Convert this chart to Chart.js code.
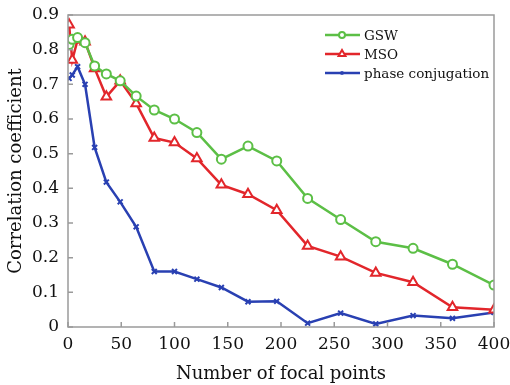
<!DOCTYPE html>
<html>
<head>
<meta charset="utf-8">
<script src="https://cdn.jsdelivr.net/npm/chart.js@4.4.0/dist/chart.umd.min.js"></script>
<style>
  html, body { margin: 0; padding: 0; background: #fff; }
  #wrap { width: 510px; height: 385px; }
</style>
</head>
<body>
<div id="wrap"><canvas id="corrChart" width="510" height="385"></canvas></div>
<script>
// number of focal points (x)
const focalPoints = [1, 4, 9, 16, 25, 36, 49, 64, 81, 100, 121, 144, 169, 196, 225, 256, 289, 324, 361, 400];
// correlation coefficient per method
const gswValues = [0.815, 0.83, 0.835, 0.82, 0.753, 0.73, 0.71, 0.666, 0.626, 0.60, 0.561, 0.484, 0.522, 0.479, 0.371, 0.31, 0.246, 0.227, 0.181, 0.121];
const msoValues = [0.872, 0.77, 0.828, 0.823, 0.746, 0.664, 0.71, 0.645, 0.545, 0.532, 0.486, 0.41, 0.383, 0.337, 0.234, 0.203, 0.156, 0.129, 0.057, 0.05];
const phaseValues = [0.717, 0.727, 0.751, 0.70, 0.518, 0.418, 0.361, 0.289, 0.16, 0.16, 0.138, 0.114, 0.073, 0.074, 0.011, 0.04, 0.009, 0.033, 0.025, 0.042];
const seriesNames = ['GSW', 'MSO', 'phase conjugation'];

const FONT = "'DejaVu Serif', serif";
const green = '#5cbf46';
const red = '#e2262b';
const blue = '#2940b2';

function toPoints(vals) {
  return vals.map((v, i) => ({ x: focalPoints[i], y: v }));
}

// box, inward ticks
const frame = {
  id: 'frame',
  afterDraw(chart) {
    const ctx = chart.ctx;
    const a = chart.chartArea;
    const xs = chart.scales.x, ys = chart.scales.y;
    ctx.save();
    ctx.strokeStyle = '#9a9a9a';
    ctx.lineWidth = 1.5;
    ctx.strokeRect(a.left, a.top, a.right - a.left, a.bottom - a.top);
    ctx.beginPath();
    xs.ticks.forEach(t => {
      const px = xs.getPixelForValue(t.value);
      ctx.moveTo(px, a.bottom);
      ctx.lineTo(px, a.bottom - 5);
    });
    ys.ticks.forEach(t => {
      const py = ys.getPixelForValue(t.value);
      ctx.moveTo(a.left, py);
      ctx.lineTo(a.left + 5, py);
    });
    ctx.stroke();
    ctx.restore();
  }
};

// legend inside the plot, upper right
const innerLegend = {
  id: 'innerLegend',
  afterDraw(chart) {
    const ctx = chart.ctx;
    ctx.save();
    chart.data.datasets.forEach((ds, i) => {
      const y = 35 + 19 * i;
      ctx.strokeStyle = ds.borderColor;
      ctx.lineWidth = 2.5;
      ctx.beginPath();
      ctx.moveTo(325, y);
      ctx.lineTo(360, y);
      ctx.stroke();
      ctx.fillStyle = '#fff';
      ctx.lineWidth = 2;
      Chart.helpers.drawPoint(ctx, { pointStyle: ds.pointStyle, radius: ds.pointRadius - 1.5, rotation: 0, borderWidth: 2 }, 342, y);
      ctx.fillStyle = '#111';
      ctx.font = '13.5px ' + FONT;
      ctx.textAlign = 'left';
      ctx.textBaseline = 'middle';
      ctx.fillText(ds.label, 364, y + 1);
    });
    ctx.restore();
  }
};

const ctxA = document.getElementById('corrChart');
const corrChart = new Chart(ctxA, {
  type: 'line',
  data: {
    datasets: [{
      label: seriesNames[0],
      data: toPoints(gswValues),
      borderColor: green,
      backgroundColor: '#fff',
      pointBackgroundColor: '#fff',
      borderWidth: 2.5,
      pointStyle: 'circle',
      pointRadius: 4.5,
      pointBorderWidth: 2
    }, {
      label: seriesNames[1],
      data: toPoints(msoValues),
      borderColor: red,
      backgroundColor: '#fff',
      pointBackgroundColor: '#fff',
      borderWidth: 2.5,
      pointStyle: 'triangle',
      pointRadius: 5.5,
      pointBorderWidth: 2
    }, {
      label: seriesNames[2],
      data: toPoints(phaseValues),
      borderColor: blue,
      backgroundColor: blue,
      borderWidth: 2.5,
      pointStyle: 'crossRot',
      pointRadius: 3.5,
      pointBorderWidth: 2
    }]
  },
  options: {
    responsive: false,
    animation: false,
    layout: { padding: { top: 15, right: 16, left: 6, bottom: 0 } },
    scales: {
      x: {
        type: 'linear',
        min: 0,
        max: 400,
        grid: { display: false, drawTicks: false },
        border: { display: false },
        ticks: { stepSize: 50, padding: 7, color: '#111', font: { family: FONT, size: 17 }, maxRotation: 0 },
        title: { display: true, text: 'Number of focal points', color: '#111', font: { family: FONT, size: 18 }, padding: { top: 0, bottom: 0 } },
        afterFit(scale) {
          scale.height = 58;
          scale.paddingLeft = 0;
          scale.paddingRight = 0;
        }
      },
      y: {
        min: 0,
        max: 0.9,
        grid: { display: false, drawTicks: false },
        border: { display: false },
        ticks: {
          stepSize: 0.1,
          padding: 9,
          color: '#111',
          font: { family: FONT, size: 17 },
          callback: v => (Math.abs(v) < 1e-9 ? '0' : v.toFixed(1))
        },
        title: { display: true, text: 'Correlation coefficient', color: '#111', font: { family: FONT, size: 18 }, padding: { top: 0, bottom: 2 } },
        afterFit(scale) {
          scale.width = 62;
          scale.paddingTop = 0;
          scale.paddingBottom = 0;
        }
      }
    },
    plugins: {
      legend: { display: false },
      tooltip: { enabled: false }
    }
  },
  plugins: [frame, innerLegend]
});
</script>
</body>
</html>
